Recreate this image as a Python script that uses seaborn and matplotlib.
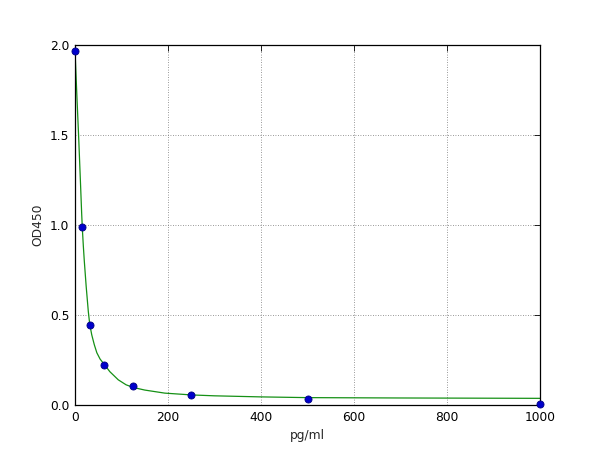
import numpy as np
import pandas as pd
import matplotlib
matplotlib.use("Agg")
import matplotlib.pyplot as plt
import seaborn as sns

# Standard points (concentration in pg/ml vs OD450)
conc = [0, 15.6, 31.25, 62.5, 125, 250, 500, 1000]
od = [1.968, 0.99, 0.445, 0.221, 0.108, 0.057, 0.032, 0.007]

# Fitted curve
curve_x = [0, 4, 8, 12, 14.4, 16, 18, 20, 24, 28.6, 31.6, 36, 41.5, 47, 54, 64,
           75, 93, 110, 126, 150, 193, 250, 300, 400, 500, 700, 1000]
curve_y = [1.97, 1.72, 1.48, 1.22, 1.06, 0.97, 0.88, 0.80, 0.66, 0.52, 0.45, 0.39,
           0.335, 0.29, 0.255, 0.222, 0.185, 0.14, 0.112, 0.097, 0.083, 0.066,
           0.056, 0.051, 0.045, 0.041, 0.039, 0.037]

x_ticks = [0, 200, 400, 600, 800, 1000]
y_ticks = [0.0, 0.5, 1.0, 1.5, 2.0]

points = pd.DataFrame({"pg/ml": conc, "OD450": od})
curve = pd.DataFrame({"pg/ml": curve_x, "OD450": curve_y})

sns.set_style("white")
plt.rcParams["font.family"] = ["DejaVu Sans"]
plt.rcParams["font.size"] = 8.8

fig, ax = plt.subplots(figsize=(6, 4.5), dpi=100)
fig.subplots_adjust(left=0.125, right=0.9, bottom=0.1, top=0.9)

sns.lineplot(data=curve, x="pg/ml", y="OD450", color="#159015", linewidth=0.9,
             ax=ax, zorder=2)
sns.scatterplot(data=points, x="pg/ml", y="OD450", color="#0000cc",
                edgecolor="#000080", linewidth=0.6, s=26, ax=ax, zorder=3,
                clip_on=False)

ax.set_xlim(0, 1000)
ax.set_ylim(0, 2.0)
ax.set_xticks(x_ticks)
ax.set_yticks(y_ticks)
ax.set_yticklabels([f"{v:.1f}" for v in y_ticks])
ax.grid(True, linestyle=(0, (1, 2)), color="#777777", linewidth=0.6)
ax.tick_params(direction="in", length=4, width=0.6, top=True, right=True,
               labelsize=8.8, colors="black", pad=4)
for s in ax.spines.values():
    s.set_color("black")
    s.set_linewidth(0.9)
ax.set_xlabel("pg/ml", fontsize=8.8)
ax.set_ylabel("OD450", fontsize=8.8)

fig.savefig("out.png", dpi=100, facecolor="white")
